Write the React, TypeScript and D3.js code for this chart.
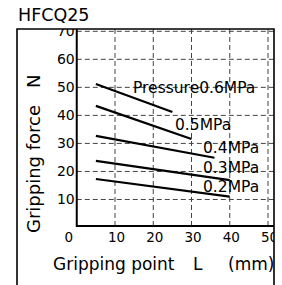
import React from 'react';
import { scaleLinear, line } from 'd3';

// chart values
const pressures = ['Pressure0.6MPa', '0.5MPa', '0.4MPa', '0.3MPa', '0.2MPa'];
const startL = [5, 5, 5, 5, 5];
const endL = [25, 30, 36, 40, 40];
const startForce = [51.2, 43.4, 32.7, 23.8, 17.3];
const endForce = [41.2, 31.6, 24.9, 16.9, 11];
const xTicks = [10, 20, 30, 40, 50];
const yTicks = [10, 20, 30, 40, 50, 60, 70];

const dims = {
  width: 282,
  height: 285,
  frameLeft: 17,
  frameTop: 29,
  frameRight: 274,
  plotLeft: 76.75,
  plotBottom: 226,
};

// label placement (px): start x and baseline y
const labelPos = [
  [133, 93],
  [175, 130],
  [203, 153],
  [203, 173],
  [203, 192],
];

const font = '"DejaVu Sans", sans-serif';

const App = () => {
  const xScale = scaleLinear().domain([0, 50]).range([dims.plotLeft, 268]);
  const yScale = scaleLinear().domain([0, 70]).range([227.5, 31.3]);

  const myLine = line<[number, number]>()
    .x((d) => xScale(d[0]))
    .y((d) => yScale(d[1]));

  const series = pressures.map((p, i) => ({
    name: p,
    points: [
      [startL[i], startForce[i]],
      [endL[i], endForce[i]],
    ] as [number, number][],
  }));

  return (
    <svg
      width={dims.width}
      height={dims.height}
      style={{ position: 'absolute', left: 0, top: 0, background: '#fff' }}
      fontFamily={font}
    >
      <defs>
        <clipPath id='frame'>
          <rect
            x={dims.frameLeft}
            y={dims.frameTop}
            width={dims.frameRight - dims.frameLeft}
            height={dims.height}
          />
        </clipPath>
      </defs>

      <text x={18} y={21} fontSize={17.5}>
        HFCQ25
      </text>

      <g clipPath='url(#frame)'>
        {/* grid */}
        {xTicks.map((t) => (
          <line
            key={'gx' + t}
            x1={xScale(t)}
            x2={xScale(t)}
            y1={dims.frameTop}
            y2={dims.plotBottom}
            stroke='#444'
            strokeWidth={1}
            strokeDasharray='5,3'
          />
        ))}
        {yTicks.map((t) => (
          <line
            key={'gy' + t}
            x1={dims.plotLeft}
            x2={dims.frameRight}
            y1={yScale(t)}
            y2={yScale(t)}
            stroke='#444'
            strokeWidth={1}
            strokeDasharray='5,3'
          />
        ))}

        {/* tick labels */}
        {yTicks.map((t) => (
          <text
            key={'ty' + t}
            x={dims.plotLeft - 2}
            y={yScale(t) + 5}
            fontSize={14}
            textAnchor='end'
          >
            {t}
          </text>
        ))}
        {xTicks.map((t) => (
          <text
            key={'tx' + t}
            x={xScale(t) + 1.5}
            y={242}
            fontSize={13.5}
            textAnchor='middle'
          >
            {t}
          </text>
        ))}
        <text x={xScale(0) - 8} y={242} fontSize={13.5} textAnchor='middle'>
          0
        </text>

        {/* series */}
        {series.map((s) => (
          <path
            key={s.name}
            d={myLine(s.points) || ''}
            fill='none'
            stroke='#000'
            strokeWidth={2.2}
          />
        ))}
        {series.map((s, i) => (
          <text
            key={'l' + s.name}
            x={labelPos[i][0]}
            y={labelPos[i][1]}
            fontSize={15.5}
          >
            {s.name}
          </text>
        ))}
      </g>

      {/* axes */}
      <line
        x1={dims.plotLeft}
        x2={dims.plotLeft}
        y1={dims.frameTop}
        y2={dims.plotBottom + 1}
        stroke='#000'
        strokeWidth={2}
      />
      <line
        x1={dims.plotLeft}
        x2={dims.frameRight}
        y1={dims.plotBottom}
        y2={dims.plotBottom}
        stroke='#000'
        strokeWidth={2}
      />

      {/* frame */}
      <path
        d={`M${dims.frameLeft},${dims.height + 5}V${dims.frameTop}H${dims.frameRight}V${dims.height + 5}`}
        fill='none'
        stroke='#000'
        strokeWidth={1.6}
      />

      {/* axis titles */}
      <text transform='translate(40,233) rotate(-90)' fontSize={18}>
        Gripping force
      </text>
      <text transform='translate(40,88) rotate(-90)' fontSize={18}>
        N
      </text>
      <text x={53} y={270} fontSize={17}>
        Gripping point
      </text>
      <text x={193} y={270} fontSize={17}>
        L
      </text>
      <text x={228} y={270} fontSize={17}>
        (mm)
      </text>
    </svg>
  );
};

export default App;
